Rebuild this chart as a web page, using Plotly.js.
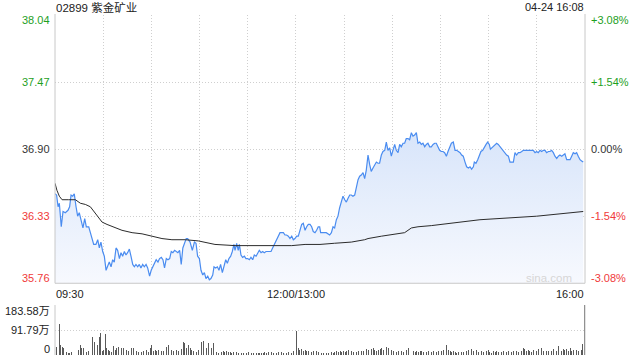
<!DOCTYPE html>
<html><head><meta charset="utf-8">
<script src="https://cdn.plot.ly/plotly-3.0.1.min.js"></script>
<style>html,body{margin:0;padding:0;background:#fff}#chart{width:640px;height:360px}</style>
</head><body><div id="chart"></div>
<script>
// ---- data ----
const stockTitle = "02899 紫金矿业";
const stampText = "04-24 16:08";
const prevClose = 36.90;
const priceTicks = [35.76, 36.33, 36.90, 37.47, 38.04];
const priceTickText = ["35.76", "36.33", "36.90", "37.47", "38.04"];
const pctTickText = ["-3.08%", "-1.54%", "0.00%", "+1.54%", "+3.08%"];
const timeTickMin = [0, 150, 330];
const timeTickText = ["09:30", "12:00/13:00", "16:00"];
const volTicks = [0, 91.79, 183.58];
const volTickText = ["0", "91.79万", "183.58万"];

// minutes after 09:30 (trading minutes, lunch break removed)
const priceMin = [
 0,1.0,1.9,2.7,3.9,5.0,6.4,8.1,9.1,10.0,11.0,12.0,13.1,14.1,15.1,16.4,17.4,18.5,19.5,21.0,
 22.0,23.0,24.1,25.5,26.6,27.6,28.6,29.7,30.7,31.8,32.8,33.8,34.9,35.9,36.9,38.0,39.0,40.1,41.1,42.1,
 43.2,44.2,45.2,46.3,47.3,48.4,49.4,50.4,51.5,52.5,53.5,54.6,55.6,56.7,57.7,58.9,59.9,61.0,62.0,63.0,
 64.1,65.1,66.2,67.2,68.2,69.3,70.3,71.4,72.4,73.4,74.5,75.5,76.5,77.6,78.6,79.6,80.7,81.7,
 82.6,84.1,85.5,86.8,87.8,88.8,89.9,90.9,92.0,93.0,94.0,95.1,96.1,97.1,98.2,99.0,100.0,101.1,102.1,103.1,
 104.2,105.2,106.3,107.3,108.3,109.4,110.4,111.4,112.1,113.1,114.1,114.8,115.8,116.8,117.9,118.9,120.0,121.0,122.0,123.1,
 124.1,125.2,126.2,127.2,128.3,129.3,130.3,131.4,132.8,134.5,135.5,136.6,137.6,139.1,140.1,141.1,142.2,143.2,144.2,145.3,
 146.3,147.4,148.4,149.4,150.5,151.5,152.5,153.6,154.6,155.7,156.7,157.7,158.8,159.8,160.8,161.9,162.9,163.9,
 164.8,165.4,166.9,168.9,171.0,172.1,173.1,174.1,175.2,176.2,177.2,178.3,179.3,180.4,181.4,182.4,183.5,184.5,185.5,186.6,
 187.6,188.7,189.7,190.7,191.8,192.8,193.8,194.9,195.9,196.9,198.0,199.0,200.1,201.1,202.1,203.2,204.2,205.3,206.3,207.3,
 208.4,209.4,210.4,211.5,212.5,213.6,214.6,215.6,216.7,217.7,218.7,219.8,220.8,221.9,222.9,223.9,225.0,226.0,227.1,228.1,
 229.1,230.2,231.2,232.2,233.3,234.3,235.4,236.4,237.4,238.5,239.5,240.5,241.6,242.6,243.7,244.7,245.7,246.8,
 248.0,249.1,250.1,251.1,252.2,253.2,254.2,255.3,256.3,257.4,258.4,259.4,260.5,261.1,262.1,263.2,264.2,265.2,266.3,267.3,
 268.4,269.4,270.4,271.1,271.9,272.9,274.0,275.0,276.0,277.1,278.1,279.1,280.2,281.2,282.3,283.3,284.3,285.4,286.4,287.4,
 288.5,289.5,290.6,291.6,292.6,293.7,295.8,297.8,298.9,299.9,300.9,302.0,303.0,304.1,305.1,306.1,307.2,308.2,309.2,310.3,
 311.3,312.4,313.4,314.4,315.5,316.5,317.5,318.6,319.6,320.7,321.7,322.7,323.8,324.8,325.8,326.9,327.9,328.9
];
const price = [
 36.52,36.51,36.41,36.44,36.24,36.37,36.36,36.38,36.41,36.51,36.50,36.52,36.41,36.33,36.36,36.27,36.23,36.31,36.24,36.24,
 36.19,36.16,36.09,36.09,36.13,36.06,36.11,36.03,35.99,35.87,35.90,35.94,35.90,35.96,35.94,36.06,36.04,35.97,36.02,35.99,
 36.03,36.00,36.02,36.05,35.99,35.92,35.90,35.92,35.90,35.92,35.89,35.92,35.90,35.92,35.89,35.82,35.87,35.90,35.94,35.96,
 35.94,35.97,35.98,35.96,35.89,35.97,35.96,35.97,36.03,36.02,36.04,36.03,36.02,36.04,35.92,36.06,36.10,36.14,
 36.14,36.11,36.04,36.11,36.10,35.99,35.97,35.87,35.83,35.85,35.80,35.82,35.79,35.80,35.83,35.90,35.89,35.90,35.87,35.92,
 35.85,35.90,35.96,35.93,35.97,35.99,36.03,36.09,36.04,36.10,36.04,36.09,36.00,35.98,35.99,35.97,35.97,35.96,35.98,35.96,
 36.00,35.99,36.02,36.04,36.02,36.03,36.02,36.03,36.03,36.03,36.06,36.09,36.13,36.16,36.19,36.19,36.19,36.17,36.17,36.16,
 36.14,36.16,36.13,36.14,36.16,36.16,36.20,36.26,36.27,36.21,36.24,36.26,36.26,36.24,36.20,36.19,36.21,36.24,
 36.24,36.19,36.19,36.19,36.17,36.19,36.24,36.23,36.30,36.33,36.40,36.45,36.50,36.47,36.45,36.48,36.51,36.51,36.50,36.51,
 36.57,36.64,36.67,36.68,36.70,36.65,36.72,36.85,36.77,36.71,36.74,36.77,36.79,36.78,36.78,36.85,36.88,36.89,36.96,36.89,
 36.91,36.84,36.88,36.94,36.89,36.87,36.94,36.92,36.95,36.95,36.99,36.99,36.98,37.04,37.01,37.02,37.04,36.95,36.96,36.94,
 36.95,36.92,36.94,36.95,36.92,36.92,36.94,36.95,36.95,36.91,36.89,36.88,36.88,36.87,36.84,36.88,36.92,36.95,
 36.96,36.89,36.89,36.88,36.87,36.85,36.84,36.79,36.75,36.74,36.75,36.73,36.75,36.79,36.78,36.81,36.84,36.88,36.89,36.92,
 36.94,36.96,36.94,36.90,36.91,36.92,36.94,36.95,36.94,36.92,36.91,36.89,36.87,36.85,36.84,36.79,36.79,36.79,36.87,36.85,
 36.87,36.87,36.88,36.89,36.89,36.89,36.89,36.89,36.87,36.88,36.87,36.89,36.88,36.89,36.89,36.87,36.88,36.88,36.89,36.87,
 36.84,36.82,36.84,36.85,36.84,36.85,36.86,36.81,36.81,36.81,36.84,36.87,36.86,36.87,36.84,36.81,36.80,36.79
];

const avgMin = [0,1.2,2.7,4.4,8.5,12.7,15.8,18.9,22.0,24.1,27.2,29.3,32.4,36.5,41.7,48.0,54.2,60.4,66.6,72.8,
 81.1,89.2,95.5,99.6,112.1,122.4,134.9,147.4,155.7,165.0,174.1,184.5,192.8,194.9,203.2,207.3,217.7,221.9,226.0,234.3,
 240.5,247.8,264.6,299.9,328.9];
const avgPrice = [36.61,36.55,36.50,36.47,36.47,36.47,36.44,36.43,36.41,36.37,36.31,36.28,36.26,36.24,36.21,36.19,36.18,36.16,36.14,36.13,
 36.13,36.12,36.10,36.09,36.08,36.08,36.08,36.08,36.09,36.09,36.10,36.11,36.13,36.14,36.16,36.17,36.19,36.23,36.24,36.25,
 36.26,36.27,36.30,36.33,36.37];

const volMin = [
 0.0,1.0,2.7,3.5,4.4,5.2,6.2,7.3,8.3,9.3,
 10.4,11.8,13.1,14.5,15.6,16.6,17.6,18.7,19.7,20.8,
 21.8,23.5,24.5,25.5,26.6,27.6,28.4,29.3,30.1,31.3,
 32.2,33.2,34.2,35.3,36.3,37.4,38.4,39.4,40.5,41.5,
 42.6,43.6,44.6,45.7,46.7,47.7,48.8,49.8,50.8,51.9,
 52.9,54.0,55.0,56.0,57.1,58.1,59.2,60.2,61.2,62.3,
 63.3,64.3,65.4,66.4,67.5,68.5,69.5,70.6,71.6,72.6,
 73.7,74.7,75.8,76.8,77.8,78.9,79.9,80.9,82.0,83.0,
 84.1,85.1,86.1,87.2,88.2,89.2,90.3,91.3,92.4,93.4,
 94.4,95.5,96.5,97.5,98.6,99.6,100.7,101.7,102.7,103.8,
 104.8,105.8,106.9,107.9,109.0,110.0,111.0,112.1,113.1,114.1,
 115.2,116.2,117.3,118.3,119.3,120.4,121.4,122.4,123.5,124.5,
 125.6,126.6,127.6,128.7,129.7,130.7,131.8,132.8,133.9,134.9,
 135.9,137.0,138.0,139.0,140.1,141.1,142.2,143.2,144.2,145.3,
 146.3,147.4,148.4,149.4,150.5,151.5,152.5,153.6,154.6,155.7,
 156.7,157.7,158.8,159.8,160.8,161.9,162.9,163.9,
 165.0,166.0,167.1,168.1,169.2,170.2,171.2,172.3,173.3,174.3,
 175.4,176.4,177.5,178.5,179.5,180.6,181.6,182.6,183.7,184.7,
 185.8,186.8,187.8,188.9,189.9,190.9,192.0,193.0,194.1,195.1,
 196.1,197.2,198.2,199.2,200.3,201.3,202.4,203.4,204.4,205.5,
 206.5,207.5,208.6,209.6,210.7,211.7,212.7,213.8,214.8,215.8,
 216.9,217.9,219.0,220.0,221.0,222.3,223.1,224.2,225.2,226.2,
 227.3,228.3,229.3,230.4,231.4,232.5,233.5,234.5,235.6,236.6,
 237.6,238.7,239.7,240.8,241.8,242.8,243.9,244.9,246.0,247.0,
 248.0,249.1,250.1,251.1,252.2,253.2,254.2,255.3,256.3,257.4,
 258.4,259.4,260.5,261.5,262.5,263.6,264.6,265.7,266.7,267.7,
 268.8,269.8,270.8,271.9,272.9,274.0,275.0,276.0,277.1,278.1,
 279.2,280.2,281.2,282.3,283.3,284.3,285.4,286.4,287.4,288.5,
 289.5,290.6,291.6,292.6,293.7,294.7,295.7,296.8,297.8,298.9,
 299.9,300.9,302.0,303.0,304.0,305.1,306.1,307.2,308.2,309.2,
 310.3,311.3,312.4,313.4,314.4,315.5,316.5,317.5,318.6,319.6,
 320.7,321.7,322.7,323.8,324.8,325.8,326.9,327.9,328.5,329.6
];
// volume, in 万 shares
const volume = [
 77.1,30.6,113.8,36.7,30.6,24.5,15.9,12.2,8.6,8.6,
 11.0,12.2,14.7,18.4,36.7,24.5,26.9,14.7,12.2,14.7,
 18.4,67.3,49.0,57.5,36.7,64.9,79.6,15.9,18.4,77.1,
 24.5,18.4,14.7,12.2,33.0,18.4,24.5,28.1,25.7,26.9,
 26.9,30.6,18.4,14.7,24.5,26.9,24.5,18.4,15.9,12.2,
 8.6,12.2,14.7,12.2,18.4,9.8,24.5,36.7,14.7,18.4,
 14.7,18.4,24.5,14.7,15.9,22.0,30.6,35.5,15.9,18.4,
 14.7,12.2,18.4,14.7,14.7,20.8,49.0,42.8,24.5,36.7,
 24.5,18.4,14.7,12.2,12.2,18.4,14.7,49.0,51.4,12.2,
 24.5,45.3,30.6,24.5,42.8,15.9,12.2,8.6,12.2,9.8,
 13.5,11.0,14.7,11.0,12.2,8.6,11.0,8.6,9.8,8.6,
 7.3,8.6,7.3,9.8,7.3,9.8,6.1,7.3,6.1,8.6,
 7.3,8.6,7.3,8.6,8.6,9.8,7.3,9.8,8.6,9.8,
 8.6,11.0,8.6,9.8,8.6,11.0,8.6,9.8,8.6,12.2,
 9.8,8.6,14.7,12.2,89.3,24.5,18.4,20.8,15.9,18.4,
 14.7,15.9,18.4,12.2,14.7,15.9,14.7,12.2,
 6.1,7.3,8.6,6.1,8.6,7.3,9.8,12.2,8.6,11.0,
 14.7,12.2,13.5,9.8,15.9,12.2,13.5,18.4,14.7,15.9,
 12.2,14.7,12.2,15.9,14.7,13.5,15.9,18.4,20.8,18.4,
 36.7,20.8,24.5,18.4,15.9,18.4,20.8,24.5,18.4,24.5,
 30.6,26.9,14.7,18.4,15.9,14.7,12.2,14.7,12.2,13.5,
 12.2,14.7,18.4,24.5,18.4,91.8,14.7,12.2,14.7,11.0,
 15.9,13.5,11.0,9.8,12.2,13.5,8.6,11.0,15.9,12.2,
 9.8,13.5,12.2,14.7,18.4,22.0,36.7,18.4,14.7,12.2,
 13.5,11.0,8.6,11.0,9.8,12.2,9.8,15.9,14.7,18.4,
 15.9,20.8,14.7,12.2,18.4,12.2,22.0,14.7,12.2,14.7,
 15.9,18.4,12.2,8.6,14.7,12.2,15.9,11.0,14.7,12.2,
 14.7,18.4,12.2,15.9,20.8,12.2,14.7,33.0,14.7,12.2,
 18.4,15.9,24.5,20.8,14.7,18.4,15.9,12.2,18.4,14.7,
 15.9,20.8,14.7,24.5,14.7,18.4,15.9,14.7,18.4,15.9,
 22.0,26.9,14.7,33.0,15.9,14.7,20.8,18.4,22.0,14.7,
 26.9,15.9,18.4,23.3,18.4,15.9,24.5,18.4,40.4,183.58
];

// ---- styles ----
const FONT = "'Liberation Sans', Arial, 'Noto Sans CJK SC', sans-serif";
const UP = "#1ea01e", DOWN = "#f03a3a", FLAT = "#333333";
const GRID = "#cfcfcf", BORDER = "#c8c8c8";
function tickColor(v){ return Math.abs(v - prevClose) < 1e-6 ? FLAT : (v > prevClose ? UP : DOWN); }

const traces = [
  {x: priceMin, y: price, type: "scatter", mode: "lines", xaxis: "x", yaxis: "y",
   line: {color: "#4a8cf0", width: 1.2}, fill: "tozeroy",
   fillgradient: {type: "vertical", start: 35.76, stop: 37.04,
     colorscale: [[0, "#f7f9fe"], [1, "#d8e5fa"]]},
   hoverinfo: "skip"},
  {x: avgMin, y: avgPrice, type: "scatter", mode: "lines", xaxis: "x", yaxis: "y",
   line: {color: "#2b2b2b", width: 1}, hoverinfo: "skip"},
  {x: volMin, y: volume, type: "bar", xaxis: "x2", yaxis: "y2", width: 0.55,
   marker: {color: "#5a5a5a", line: {width: 0}}, hoverinfo: "skip"}
];

const annotations = [];
const txt = (o) => Object.assign({showarrow: false, borderpad: 0, font: {family: FONT, size: 11, color: "#333"}}, o);
annotations.push(txt({xref: "paper", yref: "paper", x: 0, y: 1, xanchor: "left", yanchor: "middle", yshift: 8, text: stockTitle, font: {family: FONT, size: 11.5, color: "#222"}}));
annotations.push(txt({xref: "paper", yref: "paper", x: 1, y: 1, xanchor: "right", yanchor: "middle", yshift: 8, text: stampText, font: {family: FONT, size: 11, color: "#222"}}));
priceTicks.forEach((v, i) => {
  const ys = i === priceTicks.length - 1 ? -5 : (i === 0 ? 5 : 0);
  annotations.push(txt({xref: "paper", yref: "y", x: 0, y: v, xanchor: "right", yanchor: "middle", xshift: -4, yshift: ys,
    text: priceTickText[i], font: {family: FONT, size: 11, color: tickColor(v)}}));
  annotations.push(txt({xref: "paper", yref: "y", x: 1, y: v, xanchor: "left", yanchor: "middle", xshift: 5, yshift: ys,
    text: pctTickText[i], font: {family: FONT, size: 11, color: tickColor(v)}}));
});
timeTickMin.forEach((m, i) => {
  annotations.push(txt({xref: "x", yref: "paper", x: m, y: 0.211, yanchor: "top", yshift: -4,
    xanchor: i === 0 ? "left" : (i === timeTickMin.length - 1 ? "right" : "center"),
    text: timeTickText[i], font: {family: FONT, size: 11, color: "#222"}}));
});
volTicks.forEach((v, i) => {
  const ys = i === 0 ? 6 : (i === volTicks.length - 1 ? -6 : 0);
  annotations.push(txt({xref: "paper", yref: "y2", x: 0, y: v, xanchor: "right", yanchor: "middle", xshift: -4, yshift: ys,
    text: volTickText[i], font: {family: FONT, size: 11, color: "#222"}}));
});
annotations.push(txt({xref: "paper", yref: "y", x: 1, y: 35.76, xanchor: "right", yanchor: "middle", xshift: -12, yshift: 5,
  text: "sina.com", font: {family: FONT, size: 11.5, color: "#d6d6d6"}}));

const shapes = [
  {type: "line", xref: "paper", yref: "paper", x0: 0, x1: 0, y0: 0.211, y1: 1.003, line: {color: BORDER, width: 1}},
  {type: "line", xref: "paper", yref: "paper", x0: 1, x1: 1, y0: 0.211, y1: 1.003, line: {color: BORDER, width: 1}},
  {type: "line", xref: "paper", yref: "paper", x0: 0, x1: 1, y0: 0.211, y1: 0.211, line: {color: BORDER, width: 1}},
  {type: "line", xref: "paper", yref: "paper", x0: 0, x1: 0, y0: 0, y1: 0.147, line: {color: BORDER, width: 1}},
  {type: "line", xref: "paper", yref: "paper", x0: 1, x1: 1, y0: 0, y1: 0.147, line: {color: BORDER, width: 1}}
];

const layout = {
  width: 640, height: 360, margin: {l: 55, r: 55, t: 15, b: 5, pad: 0},
  paper_bgcolor: "#fff", plot_bgcolor: "#fff", showlegend: false,
  font: {family: FONT, size: 11, color: "#333"},
  xaxis: {domain: [0, 1], range: [0, 330], anchor: "y", tick0: 0, dtick: 30, showgrid: true,
    gridcolor: GRID, griddash: "1px,2px", gridwidth: 1, showticklabels: false, ticks: "", zeroline: false, showline: false, fixedrange: true},
  yaxis: {domain: [0.211, 1], range: [35.76, 38.04], tickmode: "array", tickvals: [36.33, 36.90, 37.47],
    showgrid: true, gridcolor: GRID, griddash: "1px,2px", showticklabels: false, ticks: "", zeroline: false, showline: false, fixedrange: true},
  xaxis2: {domain: [0, 1], range: [0, 330], anchor: "y2", showgrid: false, showticklabels: false, ticks: "", zeroline: false, showline: false, fixedrange: true},
  yaxis2: {domain: [0, 0.147], range: [0, 183.58], tickmode: "array", tickvals: [91.79, 183.58],
    showgrid: true, gridcolor: GRID, griddash: "1px,2px", showticklabels: false, ticks: "", zeroline: false, showline: false, fixedrange: true},
  bargap: 0, annotations: annotations, shapes: shapes
};

Plotly.newPlot("chart", traces, layout, {displayModeBar: false, staticPlot: true});
</script>
</body></html>
